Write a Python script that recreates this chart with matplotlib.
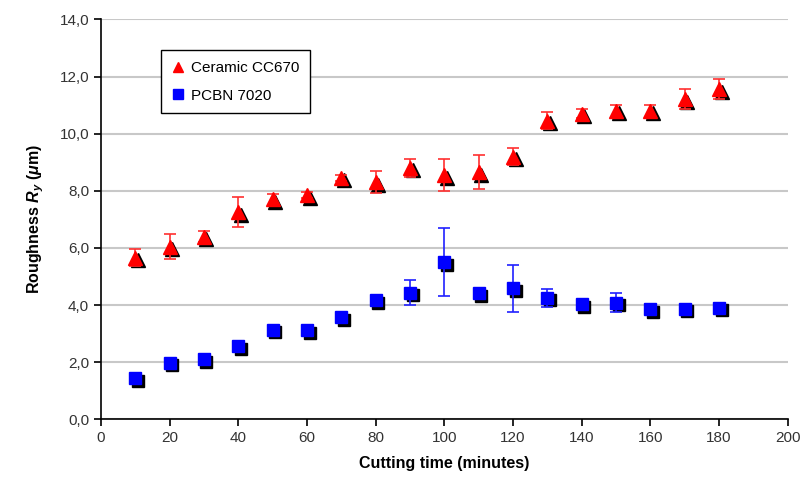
import matplotlib
matplotlib.use("Agg")
import matplotlib.pyplot as plt
import matplotlib.transforms as mtransforms
from matplotlib.ticker import FuncFormatter, MultipleLocator

plt.rcParams['font.family'] = ['Liberation Sans', 'DejaVu Sans']
plt.rcParams['mathtext.fontset'] = 'custom'
plt.rcParams['mathtext.it'] = 'Liberation Sans:italic:bold'
plt.rcParams['mathtext.rm'] = 'Liberation Sans:bold'

# cutting time (minutes)
time_min = [10, 20, 30, 40, 50, 60, 70, 80, 90, 100,
            110, 120, 130, 140, 150, 160, 170, 180]

# roughness Ry (um) and error bars
ceramic = [5.65, 6.05, 6.4, 7.25, 7.7, 7.85, 8.45, 8.3, 8.8, 8.55,
           8.65, 9.2, 10.45, 10.7, 10.8, 10.8, 11.2, 11.55]
ceramic_err = [0.3, 0.43, 0.2, 0.52, 0.2, 0.1, 0.1, 0.38, 0.3, 0.55,
               0.6, 0.3, 0.3, 0.15, 0.2, 0.2, 0.35, 0.35]
pcbn = [1.43, 1.98, 2.1, 2.56, 3.14, 3.12, 3.58, 4.16, 4.43, 5.5,
        4.42, 4.58, 4.25, 4.02, 4.08, 3.86, 3.87, 3.91]
pcbn_err = [0.08, 0.08, 0.08, 0.1, 0.1, 0.08, 0.1, 0.1, 0.43, 1.2,
            0.1, 0.82, 0.32, 0.1, 0.33, 0.1, 0.1, 0.1]

fig = plt.figure(figsize=(8.06, 4.98), dpi=100)
ax = fig.add_axes([0.1253, 0.158, 0.852, 0.803])

ax.set_xlim(0, 200)
ax.set_ylim(0, 14)
ax.xaxis.set_major_locator(MultipleLocator(20))
ax.yaxis.set_major_locator(MultipleLocator(2))
ax.yaxis.set_major_formatter(FuncFormatter(lambda v, p: f"{v:.1f}".replace('.', ',')))

ax.grid(axis='y', color='#c8c8c8', linewidth=1.5)
ax.set_axisbelow(True)
for side in ['top', 'right']:
    ax.spines[side].set_visible(False)
for side in ['left', 'bottom']:
    ax.spines[side].set_linewidth(1.2)
ax.tick_params(direction='out', length=5, width=1.2, labelsize=11,
               colors='black', labelcolor='#333333')

# black drop shadow behind each marker
shadow = mtransforms.offset_copy(ax.transData, fig=fig, x=2.5, y=-2.5, units='dots')
ax.plot(time_min, ceramic, '^', color='black', markersize=10.5, transform=shadow, zorder=2)
ax.plot(time_min, pcbn, 's', color='black', markersize=9, transform=shadow, zorder=2)

ax.errorbar(time_min, ceramic, yerr=ceramic_err, fmt='^', color='#ff0000',
            ecolor='#ff3030', elinewidth=1.2, capsize=4.5, capthick=1.2,
            markersize=10.5, zorder=3, label='Ceramic CC670')
ax.errorbar(time_min, pcbn, yerr=pcbn_err, fmt='s', color='#0000ff',
            ecolor='#2020ff', elinewidth=1.2, capsize=4.5, capthick=1.2,
            markersize=9, zorder=3, label='PCBN 7020')

handles, labels = ax.get_legend_handles_labels()
handles = [h[0] for h in handles]
leg = ax.legend(handles, labels, loc='upper left', bbox_to_anchor=(0.087, 0.923),
                borderaxespad=0, fancybox=False, edgecolor='black', framealpha=1,
                fontsize=11, markerscale=0.75, handlelength=0.8, handletextpad=0.5,
                labelspacing=0.9, borderpad=0.7)
leg.get_frame().set_linewidth(1.0)

ax.set_xlabel('Cutting time (minutes)', fontsize=11.5, fontweight='bold', labelpad=8)
ax.set_ylabel(r'Roughness $R_y$ ($\mu$m)', fontsize=11.5, fontweight='bold', labelpad=10)

fig.savefig('out.png', dpi=100)
